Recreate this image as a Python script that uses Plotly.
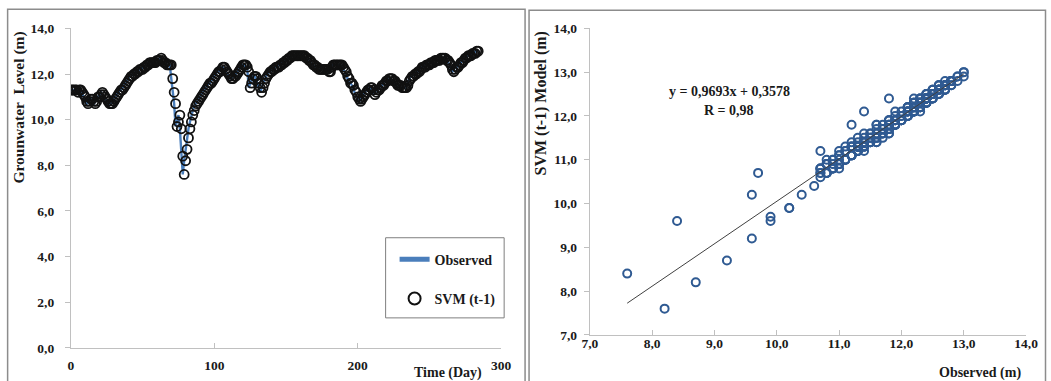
import plotly.graph_objects as go

# Daily observed groundwater level (m), day 0..284
observed = [
    11.3, 11.3, 11.3, 11.3, 11.2, 11.3, 11.3, 11.2, 11.1, 11.0,
    10.8, 10.7, 10.8, 10.9, 10.9, 10.8, 10.7, 10.8, 11.0, 11.0,
    11.1, 11.2, 11.1, 11.0, 10.9, 10.8, 10.7, 10.7, 10.7, 10.8,
    10.9, 11.0, 11.1, 11.2, 11.3, 11.3, 11.4, 11.5, 11.6, 11.7,
    11.8, 11.9, 11.9, 12.0, 12.0, 12.1, 12.1, 12.2, 12.2, 12.2,
    12.3, 12.3, 12.4, 12.4, 12.5, 12.5, 12.5, 12.5, 12.5, 12.6,
    12.6, 12.6, 12.7, 12.6, 12.5, 12.5, 12.4, 12.4, 12.4, 12.4,
    11.8, 11.2, 10.7, 9.7, 9.9, 10.2, 9.6, 8.4, 7.6, 8.2,
    8.7, 9.2, 9.6, 9.9, 10.2, 10.4, 10.6, 10.7, 10.8, 10.9,
    11.0, 11.1, 11.2, 11.3, 11.4, 11.5, 11.6, 11.6, 11.7, 11.8,
    11.9, 12.0, 12.1, 12.1, 12.2, 12.3, 12.3, 12.2, 12.1, 12.0,
    11.9, 11.8, 11.8, 11.9, 11.9, 12.0, 12.1, 12.2, 12.3, 12.4,
    12.4, 12.4, 12.3, 12.2, 11.4, 11.6, 11.8, 11.9, 11.9, 11.8,
    11.6, 11.4, 11.2, 11.4, 11.6, 11.8, 11.9, 12.0, 12.1, 12.1,
    12.2, 12.2, 12.3, 12.3, 12.3, 12.4, 12.4, 12.5, 12.5, 12.6,
    12.6, 12.7, 12.7, 12.8, 12.8, 12.8, 12.8, 12.8, 12.8, 12.8,
    12.8, 12.8, 12.8, 12.7, 12.7, 12.6, 12.6, 12.5, 12.4, 12.4,
    12.3, 12.3, 12.2, 12.2, 12.2, 12.2, 12.2, 12.2, 12.2, 12.1,
    12.1, 12.3, 12.4, 12.4, 12.4, 12.4, 12.4, 12.4, 12.4, 12.3,
    12.2, 12.1, 11.9, 11.8, 11.6, 11.6, 11.5, 11.3, 11.2, 11.0,
    10.9, 10.8, 10.9, 11.0, 11.1, 11.2, 11.3, 11.3, 11.4, 11.4,
    11.3, 11.1, 11.2, 11.3, 11.3, 11.4, 11.5, 11.5, 11.6, 11.7,
    11.7, 11.8, 11.8, 11.8, 11.7, 11.7, 11.6, 11.5, 11.5, 11.5,
    11.4, 11.4, 11.4, 11.4, 11.5, 11.7, 11.8, 11.9, 11.9, 12.0,
    12.0, 12.1, 12.1, 12.2, 12.3, 12.3, 12.3, 12.4, 12.4, 12.4,
    12.5, 12.5, 12.5, 12.6, 12.6, 12.6, 12.6, 12.7, 12.7, 12.7,
    12.7, 12.6, 12.6, 12.5, 12.4, 12.2, 12.1, 12.2, 12.3, 12.3,
    12.4, 12.5, 12.5, 12.6, 12.7, 12.7, 12.8, 12.8, 12.8, 12.9,
    12.9, 12.9, 13.0, 13.0, 13.0,
]

# Daily SVM (t-1) model prediction (m), day 0..284
svm = [
    11.3, 11.3, 11.3, 11.3, 11.3, 11.2, 11.3, 11.3, 11.2, 11.1,
    11.0, 10.8, 10.7, 10.8, 10.9, 10.9, 10.8, 10.7, 10.8, 11.0,
    11.0, 11.1, 11.2, 11.1, 11.0, 10.9, 10.8, 10.7, 10.7, 10.7,
    10.8, 10.9, 11.0, 11.1, 11.2, 11.3, 11.3, 11.4, 11.5, 11.6,
    11.7, 11.8, 11.9, 11.9, 12.0, 12.0, 12.1, 12.1, 12.2, 12.2,
    12.2, 12.3, 12.3, 12.4, 12.4, 12.5, 12.5, 12.5, 12.5, 12.5,
    12.6, 12.6, 12.6, 12.7, 12.6, 12.5, 12.5, 12.4, 12.4, 12.4,
    12.4, 11.8, 11.2, 10.7, 9.7, 9.9, 10.2, 9.6, 8.4, 7.6,
    8.2, 8.7, 9.2, 9.6, 9.9, 10.2, 10.4, 10.6, 10.7, 10.8,
    10.9, 11.0, 11.1, 11.2, 11.3, 11.4, 11.5, 11.6, 11.6, 11.7,
    11.8, 11.9, 12.0, 12.1, 12.1, 12.2, 12.3, 12.3, 12.2, 12.1,
    12.0, 11.9, 11.8, 11.8, 11.9, 11.9, 12.0, 12.1, 12.2, 12.3,
    12.4, 12.4, 12.4, 12.3, 12.1, 11.4, 11.6, 11.8, 11.9, 11.9,
    11.8, 11.6, 11.4, 11.2, 11.4, 11.6, 11.8, 11.9, 12.0, 12.1,
    12.1, 12.2, 12.2, 12.3, 12.3, 12.3, 12.4, 12.4, 12.5, 12.5,
    12.6, 12.6, 12.7, 12.7, 12.8, 12.8, 12.8, 12.8, 12.8, 12.8,
    12.8, 12.8, 12.8, 12.8, 12.7, 12.7, 12.6, 12.6, 12.5, 12.4,
    12.4, 12.3, 12.3, 12.2, 12.2, 12.2, 12.2, 12.2, 12.2, 12.2,
    12.1, 12.1, 12.3, 12.4, 12.4, 12.4, 12.4, 12.4, 12.4, 12.4,
    12.3, 12.2, 12.1, 11.9, 11.8, 11.6, 11.6, 11.5, 11.3, 11.2,
    11.0, 10.9, 10.8, 10.9, 11.0, 11.1, 11.2, 11.3, 11.3, 11.4,
    11.4, 11.3, 11.1, 11.2, 11.3, 11.3, 11.4, 11.5, 11.5, 11.6,
    11.7, 11.7, 11.8, 11.8, 11.8, 11.7, 11.7, 11.6, 11.5, 11.5,
    11.5, 11.4, 11.4, 11.4, 11.4, 11.5, 11.7, 11.8, 11.9, 11.9,
    12.0, 12.0, 12.1, 12.1, 12.2, 12.3, 12.3, 12.3, 12.4, 12.4,
    12.4, 12.5, 12.5, 12.5, 12.6, 12.6, 12.6, 12.6, 12.7, 12.7,
    12.7, 12.7, 12.6, 12.6, 12.5, 12.4, 12.2, 12.1, 12.2, 12.3,
    12.3, 12.4, 12.5, 12.5, 12.6, 12.7, 12.7, 12.8, 12.8, 12.8,
    12.9, 12.9, 12.9, 13.0, 13.0,
]

days = list(range(len(observed)))

# Linear trend reported on the scatter
slope = 0.9693
intercept = 0.3578
r_value = "0,98"

left_y_ticks = [0, 2, 4, 6, 8, 10, 12, 14]
left_x_ticks = [0, 100, 200, 300]
right_ticks = [7, 8, 9, 10, 11, 12, 13, 14]

FONT = "Liberation Serif"
# Observed page-to-picture mapping: picture = (figure_px + 8) * scale
OFF = 8
SX, SY = 1051 / 1067, 381 / 397
W, H = 1059, 389


def fx(p):
    return p / SX - OFF


def fy(p):
    return p / SY - OFF


def px_x(p):
    return fx(p) / W


def px_y(p):
    return 1 - fy(p) / H


TXT = "#1a1a1a"

fig = go.Figure()

fig.add_trace(go.Scatter(
    x=days, y=observed, mode="lines", name="Observed",
    line=dict(color="#4A7EBB", width=2.4),
    xaxis="x", yaxis="y", legendgroup="a",
))
fig.add_trace(go.Scatter(
    x=days, y=svm, mode="markers", name="SVM (t-1)",
    marker=dict(symbol="circle-open", size=9, color="#111111",
                line=dict(width=1.8, color="#111111")),
    xaxis="x", yaxis="y", legendgroup="b",
))

fig.add_trace(go.Scatter(
    x=observed, y=svm, mode="markers", showlegend=False,
    marker=dict(symbol="circle-open", size=8, color="#2F5A92",
                line=dict(width=2, color="#2F5A92")),
    xaxis="x2", yaxis="y2",
))
xmin, xmax = min(observed), max(observed)
fig.add_trace(go.Scatter(
    x=[xmin, xmax], y=[slope * xmin + intercept, slope * xmax + intercept],
    mode="lines", showlegend=False,
    line=dict(color="#404040", width=1),
    xaxis="x2", yaxis="y2",
))

axis_common = dict(
    showgrid=False, zeroline=False, showline=True,
    linecolor="#C0C0C0", linewidth=1,
    tickcolor="#C0C0C0",
    tickfont=dict(family=FONT, size=13.5, color=TXT, weight="bold"),
)

fig.update_layout(
    width=W, height=H,
    margin=dict(l=0, r=0, t=0, b=0),
    paper_bgcolor="white", plot_bgcolor="white",
    separators=", ",
    font=dict(family=FONT),
    xaxis=dict(domain=[px_x(71), px_x(503)], range=[0, 300],
               tickvals=left_x_ticks, anchor="y", ticks="inside", ticklen=5,
               ticklabelstandoff=5, **axis_common),
    yaxis=dict(domain=[px_y(348), px_y(29)], range=[0, 14],
               tickvals=left_y_ticks, tickformat=".1f", anchor="x",
               ticks="outside", ticklen=5,
               ticklabelstandoff=8, **axis_common),
    xaxis2=dict(domain=[px_x(592), px_x(1030)], range=[7, 14],
                tickvals=right_ticks, tickformat=".1f", anchor="y2",
                ticks="inside", ticklen=5,
                ticklabelstandoff=-4, **axis_common),
    yaxis2=dict(domain=[px_y(335), px_y(29)], range=[7, 14],
                tickvals=right_ticks, tickformat=".1f", anchor="x2",
                ticks="outside", ticklen=5,
                ticklabelstandoff=4, **axis_common),
    showlegend=True,
    legend=dict(
        x=px_x(396), y=px_y(244), xanchor="left", yanchor="top",
        bgcolor="rgba(0,0,0,0)", borderwidth=0,
        font=dict(family=FONT, size=14, color=TXT, weight="bold"),
        tracegroupgap=18, traceorder="grouped", itemsizing="constant",
    ),
)

shapes = [
    dict(type="rect", xref="paper", yref="paper",
         x0=px_x(7.5), x1=px_x(527), y0=-0.05, y1=px_y(10),
         line=dict(color="#8C8C8C", width=1.5)),
    dict(type="rect", xref="paper", yref="paper",
         x0=px_x(531), x1=px_x(1049.5), y0=-0.05, y1=px_y(11),
         line=dict(color="#8C8C8C", width=1.5)),
    dict(type="rect", xref="paper", yref="paper",
         x0=px_x(387), x1=px_x(506), y0=px_y(318), y1=px_y(238),
         line=dict(color="#7F7F7F", width=1)),
]
fig.update_layout(shapes=shapes)


def note(text, x, y, angle=0, size=14):
    return dict(text=text, x=px_x(x), y=px_y(y), xref="paper", yref="paper",
                xanchor="center", yanchor="middle", showarrow=False,
                textangle=angle, font=dict(family=FONT, size=size, color=TXT, weight="bold"))


annotations = [
    note("Time (Day)", 450, 373),
    note("Observed (m)", 984, 373),
    note("Grounwater  Level (m)", 18, 108, angle=-90, size=15.5),
    note("SVM (t-1) Model (m)", 543, 104, angle=-90, size=16),
    note(f"y = {str(slope).replace('.', ',')}x + {str(intercept).replace('.', ',')}", 732, 92),
    note(f"R = {r_value}", 732, 111),
]
fig.update_layout(annotations=annotations)

fig.write_html("out.html", config={"displayModeBar": False},
               post_script="document.body.style.margin='0';")
